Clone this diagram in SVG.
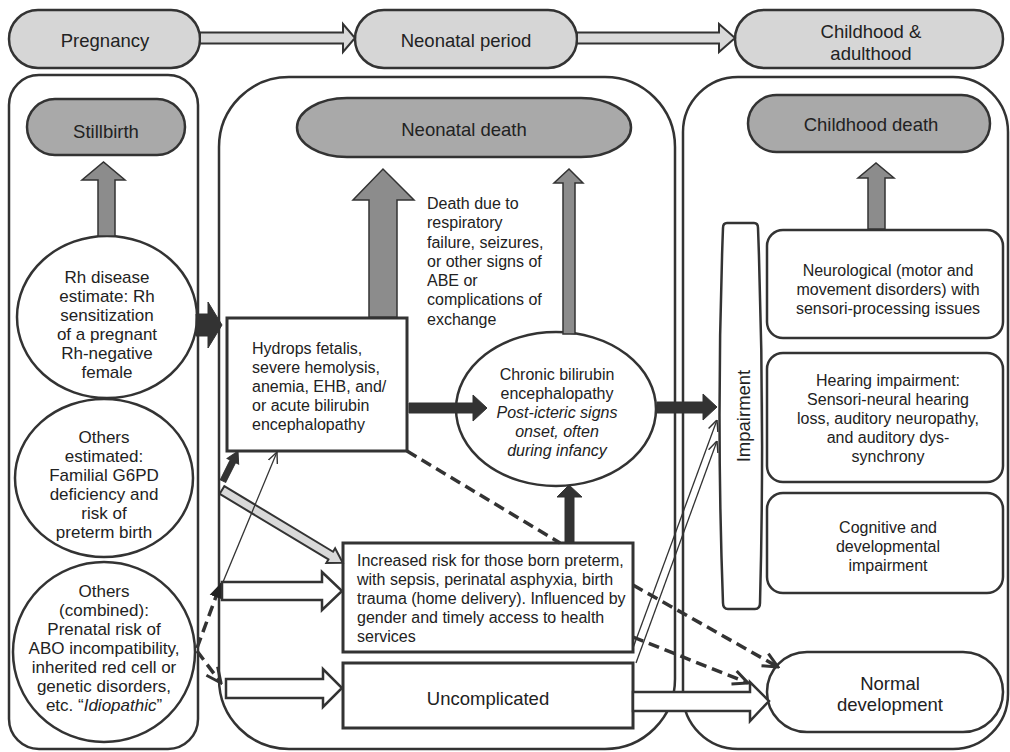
<svg xmlns="http://www.w3.org/2000/svg" width="1010" height="752" viewBox="0 0 1010 752">
<style>
.t{font-family:"Liberation Sans",Arial,Helvetica,sans-serif;font-size:16px;fill:#222}
.tt{font-size:18.5px}
.tc{font-size:17px}
.c{text-anchor:middle}
.i{font-style:italic}
.panel{fill:#fff;stroke:#333;stroke-width:2.5}
.box{fill:#fff;stroke:#333;stroke-width:3}
.rbox{fill:#fff;stroke:#333;stroke-width:2.5}
.pillL{fill:#d6d6d6;stroke:#333;stroke-width:2.5}
.pillD{fill:#a9a9a9;stroke:#333;stroke-width:2.5}
.garrow{fill:#8c8c8c;stroke:#333;stroke-width:1.5}
.barrow{fill:#333;stroke:#333;stroke-width:1}
.harrow{fill:#fff;stroke:#333;stroke-width:2.5}
.larrow{fill:#d9d9d9;stroke:#333;stroke-width:2}
.dash{fill:none;stroke:#333;stroke-width:3.5;stroke-dasharray:11 6}
.thin{fill:none;stroke:#333;stroke-width:1.3}
</style>
<defs>
<marker id="vThin" viewBox="0 0 10 10" refX="10" refY="5" markerWidth="11" markerHeight="11" markerUnits="userSpaceOnUse" orient="auto">
<path d="M0,0.5 L10,5 L0,9.5" fill="none" stroke="#333" stroke-width="1.3"/>
</marker>
<marker id="vThick" viewBox="0 0 20 20" refX="18" refY="10" markerWidth="20" markerHeight="20" markerUnits="userSpaceOnUse" orient="auto">
<path d="M3,3 L18,10 L3,17" fill="none" stroke="#333" stroke-width="3" stroke-dasharray="none"/>
</marker>
<marker id="fHead" viewBox="0 0 16 16" refX="15" refY="8" markerWidth="16" markerHeight="16" markerUnits="userSpaceOnUse" orient="auto">
<path d="M0,1.5 L15,8 L0,14.5 Z" fill="#222"/>
</marker>
</defs>

<g id="timeline">
<g id="pregnancy"><rect class="pillL" x="9" y="10" width="191" height="58" rx="29"/><text class="t tt c" x="105" y="47">Pregnancy</text></g>
<g id="neonatal-period"><rect class="pillL" x="355" y="10" width="222" height="58" rx="29"/><text class="t tt c" x="466" y="47">Neonatal period</text></g>
<g id="childhood-adulthood"><rect class="pillL" x="735" y="10" width="268" height="58" rx="29"/><text class="t tt c" x="871" y="38">Childhood &amp;</text><text class="t tt c" x="871" y="60">adulthood</text></g>
</g>

<g id="panels">
<rect id="panel-pregnancy" class="panel" x="9" y="75" width="189" height="674" rx="30"/>
<rect id="panel-neonatal" class="panel" x="219" y="77" width="456" height="672" rx="70"/>
<rect id="panel-childhood" class="panel" x="683" y="77" width="325" height="672" rx="55"/>
</g>

<g id="stillbirth"><rect class="pillD" x="27" y="99" width="158" height="56" rx="28"/><text class="t tt c" x="106" y="138">Stillbirth</text></g>

<g id="rh-disease"><ellipse class="rbox" cx="107" cy="317" rx="90" ry="81"/>
<text class="t tc c"><tspan x="107" y="283">Rh disease</tspan><tspan x="107" y="302">estimate: Rh</tspan><tspan x="107" y="321">sensitization</tspan><tspan x="107" y="340">of a pregnant</tspan><tspan x="107" y="359">Rh-negative</tspan><tspan x="107" y="378">female</tspan></text></g>

<g id="others-estimated"><ellipse class="rbox" cx="104" cy="478" rx="89" ry="79"/>
<text class="t tc c"><tspan x="104" y="443">Others</tspan><tspan x="104" y="462">estimated:</tspan><tspan x="104" y="481">Familial G6PD</tspan><tspan x="104" y="500">deficiency and</tspan><tspan x="104" y="519">risk of</tspan><tspan x="104" y="538">preterm birth</tspan></text></g>

<g id="others-combined"><ellipse class="rbox" cx="104" cy="652" rx="91" ry="90"/>
<text class="t tc c"><tspan x="104" y="597">Others</tspan><tspan x="104" y="616">(combined):</tspan><tspan x="104" y="635">Prenatal risk of</tspan><tspan x="104" y="654">ABO incompatibility,</tspan><tspan x="104" y="673">inherited red cell or</tspan><tspan x="104" y="692">genetic disorders,</tspan><tspan x="104" y="711">etc. “<tspan class="i">Idiopathic</tspan>”</tspan></text></g>

<g id="neonatal-death"><rect class="pillD" x="297" y="98" width="334" height="59" rx="50" ry="29.5"/><text class="t tt c" x="464" y="136">Neonatal death</text></g>

<g id="death-note"><text class="t"><tspan x="427" y="209">Death due to</tspan><tspan x="427" y="228">respiratory</tspan><tspan x="427" y="248">failure, seizures,</tspan><tspan x="427" y="267">or other signs of</tspan><tspan x="427" y="286">ABE or</tspan><tspan x="427" y="305">complications of</tspan><tspan x="427" y="325">exchange</tspan></text></g>

<g id="hydrops"><rect class="box" x="227" y="318" width="180" height="133"/>
<text class="t"><tspan x="252" y="354">Hydrops fetalis,</tspan><tspan x="252" y="373">severe hemolysis,</tspan><tspan x="252" y="392">anemia, EHB, and/</tspan><tspan x="252" y="411">or acute bilirubin</tspan><tspan x="252" y="430">encephalopathy</tspan></text></g>

<g id="chronic"><ellipse class="rbox" cx="556" cy="409" rx="100" ry="77"/>
<text class="t c"><tspan x="557" y="380">Chronic bilirubin</tspan><tspan x="557" y="399">encephalopathy</tspan><tspan class="i" x="557" y="418">Post-icteric signs</tspan><tspan class="i" x="557" y="437">onset, often</tspan><tspan class="i" x="557" y="456">during infancy</tspan></text></g>

<g id="increased-risk"><rect class="box" x="343" y="543" width="290" height="109"/>
<text class="t"><tspan x="357" y="566">Increased risk for those born preterm,</tspan><tspan x="357" y="585">with sepsis, perinatal asphyxia, birth</tspan><tspan x="357" y="604">trauma (home delivery). Influenced by</tspan><tspan x="357" y="623">gender and timely access to health</tspan><tspan x="357" y="642">services</tspan></text></g>

<g id="uncomplicated"><rect class="box" x="343" y="663" width="290" height="65"/><text class="t tt c" x="488" y="705">Uncomplicated</text></g>

<g id="childhood-death"><rect class="pillD" x="748" y="95" width="242" height="57" rx="28.5"/><text class="t tt c" x="871" y="131">Childhood death</text></g>

<g id="impairment"><path class="rbox" d="M727,223 L754,223 Q758,223 758,228 Q765,415 760,603 Q760,609 755,609 L728,609 Q723,609 723,603 Q716,415 723,228 Q723,223 727,223 Z"/>
<text class="t tt c" transform="translate(750,416) rotate(-90)" x="0" y="0">Impairment</text></g>

<g id="neurological"><rect class="rbox" x="767" y="230" width="236" height="108" rx="16"/>
<text class="t c"><tspan x="888" y="276">Neurological (motor and</tspan><tspan x="888" y="295">movement disorders) with</tspan><tspan x="888" y="314">sensori-processing issues</tspan></text></g>

<g id="hearing"><rect class="rbox" x="767" y="353" width="236" height="129" rx="16"/>
<text class="t c"><tspan x="888" y="386">Hearing impairment:</tspan><tspan x="888" y="405">Sensori-neural hearing</tspan><tspan x="888" y="424">loss, auditory neuropathy,</tspan><tspan x="888" y="443">and auditory dys-</tspan><tspan x="888" y="462">synchrony</tspan></text></g>

<g id="cognitive"><rect class="rbox" x="767" y="493" width="236" height="100" rx="16"/>
<text class="t c"><tspan x="888" y="533">Cognitive and</tspan><tspan x="888" y="552">developmental</tspan><tspan x="888" y="571">impairment</tspan></text></g>

<g id="normal-development"><rect class="rbox" x="767" y="652" width="236" height="80" rx="40"/>
<text class="t tt c"><tspan x="890" y="690">Normal</tspan><tspan x="890" y="711">development</tspan></text></g>

<g id="connectors">
<polygon class="larrow" points="200,32.5 343,32.5 343,24 355,38 343,52 343,43.5 200,43.5"/>
<polygon class="larrow" points="577,32.5 719,32.5 719,24 735,38 719,52 719,43.5 577,43.5"/>
<polygon class="garrow" points="98,236 98,180 82,180 103.5,162 125,180 115,180 115,236"/>
<polygon class="garrow" points="868,229 868,178 858,178 876,163 894,178 885,178 885,229"/>
<polygon class="garrow" points="369,317 369,200 353,200 383,169 414,200 397,200 397,317"/>
<polygon class="garrow" points="563,334 563,183 554,183 569,169 583,183 575,183 575,334"/>
<polygon class="barrow" points="196,314 208,314 208,302 222,325 208,348 208,336 196,336"/>
<polygon class="barrow" points="409,403 473,403 473,395 487,408 473,421 473,413 409,413"/>
<polygon class="barrow" points="657,402 703,402 703,394 717,407 703,420 703,413 657,413"/>
<polygon class="barrow" points="565,542 565,497 557,497 569,485 582,497 574,497 574,542"/>
<g transform="translate(223,481) rotate(-63.4)"><polygon class="barrow" points="0,-3 22,-3 22,-6.5 33.5,0 22,6.5 22,3 0,3"/></g>
<g transform="translate(222,490) rotate(31.1)"><polygon class="larrow" points="0,-4.5 127,-4.5 127,-8.5 141,0 127,8.5 127,4.5 0,4.5"/></g>
<line class="thin" x1="223" y1="582" x2="277" y2="452" marker-end="url(#vThin)"/>
<line class="dash" x1="197" y1="648" x2="221" y2="583" marker-end="url(#fHead)"/>
<line class="dash" x1="197" y1="651" x2="221" y2="683" marker-end="url(#vThick)"/>
<line class="dash" x1="407" y1="451" x2="560" y2="543"/>
<line class="dash" x1="633" y1="585" x2="778" y2="667" marker-end="url(#vThick)"/>
<line class="dash" x1="633" y1="637" x2="748" y2="683" marker-end="url(#vThick)"/>
<line class="thin" x1="633" y1="648" x2="717" y2="420" marker-end="url(#vThin)"/>
<line class="thin" x1="636" y1="663" x2="717" y2="441" marker-end="url(#vThin)"/>
<polygon class="harrow" points="222,582 322,582 322,572 342,591 322,610 322,600 222,600"/>
<polygon class="harrow" points="226,679 323,679 323,669 342,688 323,707 323,698 226,698"/>
<polygon class="harrow" points="633,692 750,692 750,682 769,701 750,721 750,711 633,711"/>
</g>
</svg>
